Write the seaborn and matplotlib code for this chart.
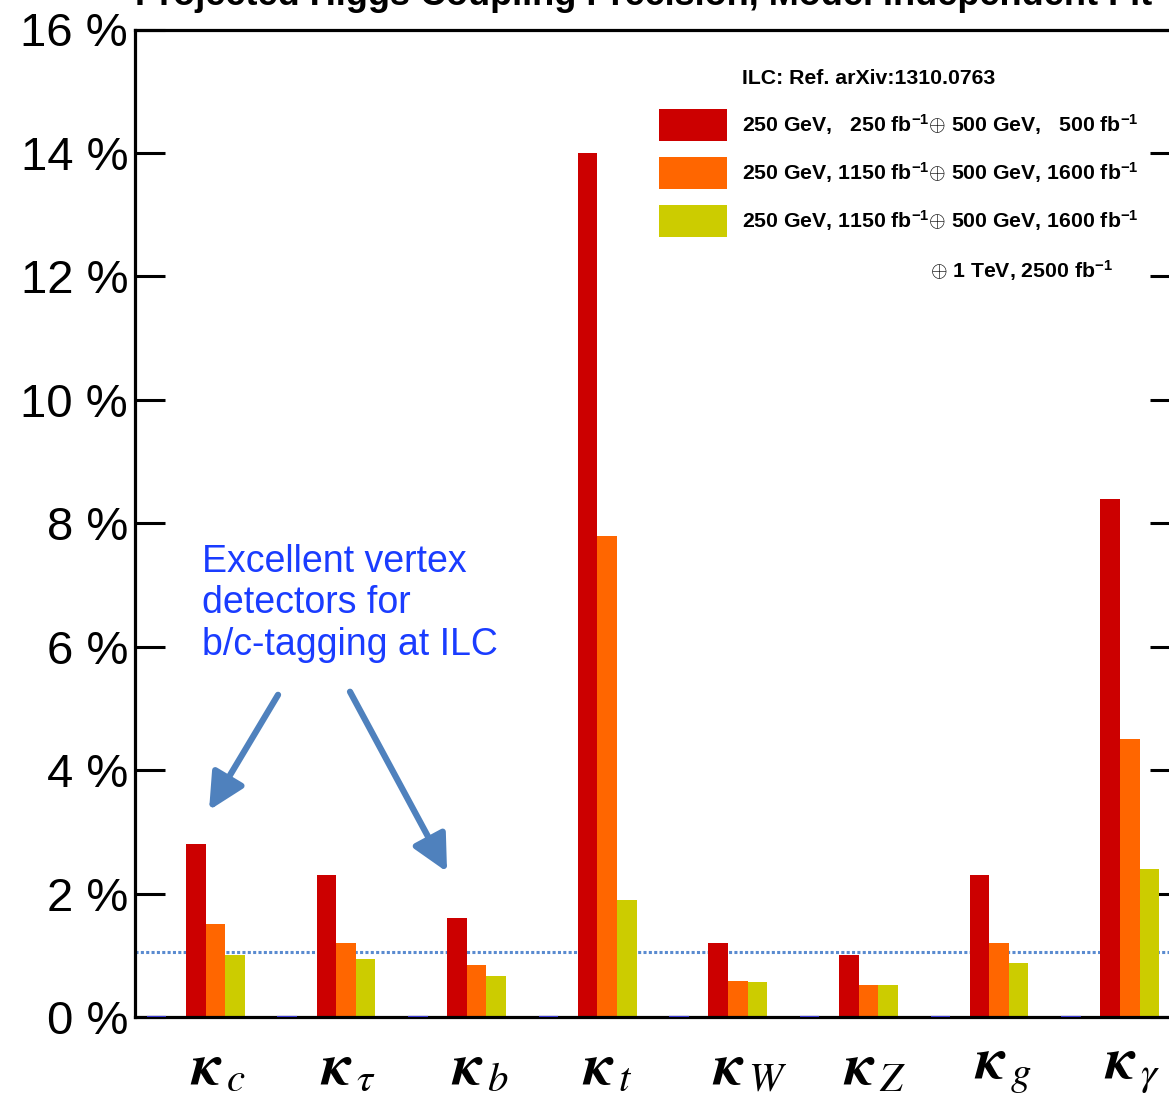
import matplotlib
matplotlib.use("Agg")
import matplotlib.pyplot as plt
import matplotlib.colors as mcolors
from matplotlib.patches import Patch
from matplotlib.mathtext import MathTextParser
import numpy as np
import pandas as pd
import seaborn as sns

# ---------------- data ----------------
categories = ["c", r"\tau", "b", "t", "W", "Z", "g", r"\gamma"]
series_names = ["ref", "gap", "s1", "s2", "s3"]
ref_vals = [0, 0, 0, 0, 0, 0, 0, 0]
gap_vals = [0, 0, 0, 0, 0, 0, 0, 0]
s1_vals = [2.8, 2.3, 1.6, 14.0, 1.2, 1.0, 2.3, 8.4]
s2_vals = [1.5, 1.2, 0.84, 7.8, 0.58, 0.52, 1.2, 4.5]
s3_vals = [1.0, 0.94, 0.66, 1.9, 0.57, 0.52, 0.87, 2.4]
legend_labels = [
    r"250 GeV,   250 fb$^{-1}$$\oplus$ 500 GeV,   500 fb$^{-1}$",
    r"250 GeV, 1150 fb$^{-1}$$\oplus$ 500 GeV, 1600 fb$^{-1}$",
    r"250 GeV, 1150 fb$^{-1}$$\oplus$ 500 GeV, 1600 fb$^{-1}$",
]
legend_extra = r"$\oplus$ 1 TeV, 2500 fb$^{-1}$"
legend_title = "ILC: Ref. arXiv:1310.0763"
y_ticks = [0, 2, 4, 6, 8, 10, 12, 14, 16]
ref_line = 1.05
title = "Projected Higgs Coupling Precision, Model Independent Fit"
note = "Excellent vertex\ndetectors for\nb/c-tagging at ILC"

colors = {"ref": "#3535d0", "gap": "#ffffff", "s1": "#cc0000", "s2": "#ff6600", "s3": "#cccc00"}

rows = []
for name, vals in zip(series_names, [ref_vals, gap_vals, s1_vals, s2_vals, s3_vals]):
    for cat, v in zip(categories, vals):
        rows.append({"cat": cat, "series": name, "val": v})
df = pd.DataFrame(rows)

# ---------------- style ----------------
sns.set_style("white")
plt.rcParams["font.family"] = ["Liberation Sans", "DejaVu Sans"]
plt.rcParams["mathtext.rm"] = "Liberation Sans:bold"
plt.rcParams["mathtext.bf"] = "Liberation Sans:bold"
plt.rcParams["mathtext.it"] = "Liberation Sans:italic:bold"
for key in ["text.color", "axes.labelcolor", "xtick.color", "ytick.color", "axes.edgecolor"]:
    plt.rcParams[key] = "black"

W, H = 1169, 1100
fig = plt.figure(figsize=(W / 100, H / 100), dpi=100)
fig.patch.set_facecolor("white")
ax = fig.add_axes([135 / W, 1 - 1017 / H, 1045 / W, 987.5 / H])

sns.barplot(data=df, x="cat", y="val", hue="series", order=categories,
            hue_order=series_names, palette=colors, width=0.75, dodge=True,
            errorbar=None, legend=False, saturation=1, linewidth=0, ax=ax)

ref_rgba = mcolors.to_rgba(colors["ref"])
for cont in ax.containers:
    for b in cont:
        if b.get_height() == 0:
            if np.allclose(b.get_facecolor(), ref_rgba):
                b.set_edgecolor(colors["ref"])
                b.set_linewidth(1.6)
                b.set_zorder(3)
            else:
                b.set_visible(False)

ax.set_xlim(-0.465, 7.535)
ax.set_ylim(0, 16)
ax.set_xlabel("")
ax.set_ylabel("")
ax.axhline(ref_line, color="#5a8bd0", lw=2.2, ls=(0, (1, 0.75)), zorder=0.5)

# spines / ticks
for s in ax.spines.values():
    s.set_visible(True)
    s.set_linewidth(2.3)
    s.set_color("black")
ax.set_yticks(y_ticks)
ax.set_yticklabels([f"{v} %" for v in y_ticks], fontsize=34)
ax.tick_params(axis="y", direction="in", length=21.6, width=2.2, left=True,
               right=True, labelright=False, pad=5, colors="black")

# x labels
try:
    MathTextParser("path").parse(r"$\mathbfit{\kappa}$")
    kap = r"\mathbfit{\kappa}"
except Exception:
    kap = r"\mathbf{\kappa}"
xt_labels = []
for c in categories:
    sub = c if c.startswith("\\") else r"\mathit{%s}" % c
    xt_labels.append(r"$%s_{\,%s}$" % (kap, sub))
ax.set_xticks([i - 0.045 for i in range(len(categories))])
ax.set_xticklabels(xt_labels, fontsize=42, color="black")
for lab in ax.get_xticklabels():
    lab.set_math_fontfamily("stix")
    lab.set_ha("left")
ax.tick_params(axis="x", length=0, pad=18)

# legend
handles = [Patch(facecolor=colors[k], edgecolor="none") for k in ["s1", "s2", "s3"]]
fs_px = 21.3
leg = ax.legend(handles, legend_labels, loc="upper left",
                bbox_to_anchor=((659 - 135) / 1045, (1017 - 109) / 987.5),
                frameon=False, borderpad=0, borderaxespad=0,
                handlelength=68 / fs_px, handleheight=1.934,
                handletextpad=15 / fs_px, labelspacing=16 / fs_px,
                prop={"family": ["Liberation Sans", "DejaVu Sans"], "weight": "bold", "size": fs_px * 0.72})
for t in leg.get_texts():
    t.set_math_fontfamily("custom")
    t.set_color("black")
ax.text((742 - 135) / 1045, (1017 - 78) / 987.5, legend_title, transform=ax.transAxes,
        fontsize=fs_px * 0.72, fontweight="bold", va="center", ha="left", color="black")
t4 = ax.text((930 - 135) / 1045, (1017 - 271) / 987.5, legend_extra, transform=ax.transAxes,
             fontsize=fs_px * 0.72, fontweight="bold", va="center", ha="left", color="black")
t4.set_math_fontfamily("custom")

# annotation
ax.text(0.048, 7.67, note, color="#1a3cff", fontsize=27, va="top", ha="left",
        linespacing=1.2)
arrow_kw = dict(arrowstyle="-|>", color="#4f81bd", lw=4.5, mutation_scale=55,
                shrinkA=0, shrinkB=0)
ax.annotate("", xy=(0.102, 3.35), xytext=(0.63, 5.22), arrowprops=arrow_kw)
ax.annotate("", xy=(1.924, 2.35), xytext=(1.181, 5.27), arrowprops=arrow_kw)

fig.text(135 / W, 1 - 5 / H, title, fontsize=26, fontweight="bold", va="baseline",
         ha="left", color="black")

fig.savefig("out.png", dpi=100, facecolor="white")
